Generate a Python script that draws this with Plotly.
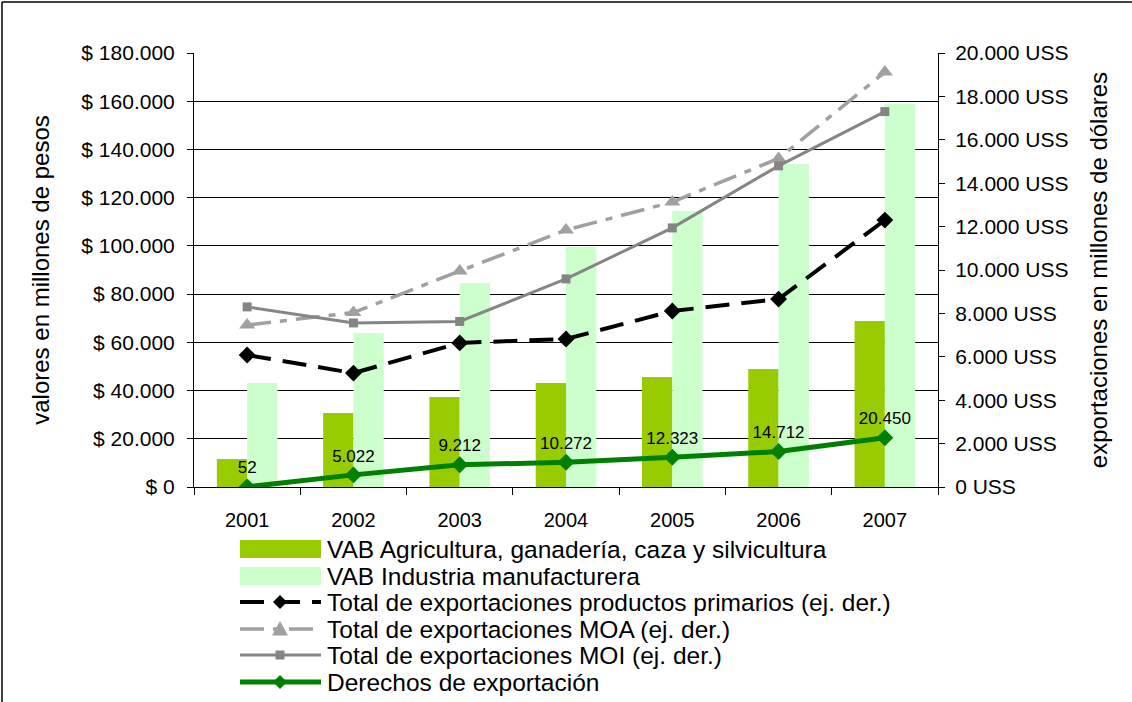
import plotly.graph_objects as go

# ---------------- data ----------------
years = ["2001", "2002", "2003", "2004", "2005", "2006", "2007"]
vab_agro = [11600, 30700, 37300, 43100, 45600, 48900, 68800]          # millones de pesos
vab_ind = [43100, 63900, 84600, 99500, 114500, 134000, 158900]        # millones de pesos
exp_primarios = [6080, 5250, 6640, 6820, 8110, 8660, 12300]           # millones USS
exp_moa = [7460, 8040, 9950, 11840, 13130, 15140, 19120]              # millones USS
exp_moi = [8300, 7560, 7630, 9590, 11940, 14800, 17300]               # millones USS
derechos = [52, 5022, 9212, 10272, 12323, 14712, 20450]               # millones de pesos

left_tickvals = [0, 20000, 40000, 60000, 80000, 100000, 120000, 140000, 160000, 180000]
left_ticktext = ["$ 0", "$ 20.000", "$ 40.000", "$ 60.000", "$ 80.000", "$ 100.000",
                 "$ 120.000", "$ 140.000", "$ 160.000", "$ 180.000"]
right_tickvals = [0, 2000, 4000, 6000, 8000, 10000, 12000, 14000, 16000, 18000, 20000]
right_ticktext = ["0 USS", "2.000 USS", "4.000 USS", "6.000 USS", "8.000 USS", "10.000 USS",
                  "12.000 USS", "14.000 USS", "16.000 USS", "18.000 USS", "20.000 USS"]

names = [
    "VAB Agricultura, ganadería, caza y silvicultura",
    "VAB Industria manufacturera",
    "Total de exportaciones productos primarios (ej. der.)",
    "Total de exportaciones MOA (ej. der.)",
    "Total de exportaciones MOI (ej. der.)",
    "Derechos de exportación",
]

FONT = "Liberation Sans, Arial, sans-serif"
C_AGRO, C_IND = "#99CC00", "#CCFFCC"
C_PRIM, C_MOA, C_MOI, C_DER = "#000000", "#A0A0A0", "#858585", "#008000"
DASH_PRIM = "24px,12px"
DASH_MOA = "24px,9px,7px,9px"

def fmt(v):
    return f"{v:,}".replace(",", ".")

fig = go.Figure()
fig.add_trace(go.Bar(x=years, y=vab_agro, name=names[0], marker_color=C_AGRO,
                     marker_line_width=0, yaxis="y"))
fig.add_trace(go.Bar(x=years, y=vab_ind, name=names[1], marker_color=C_IND,
                     marker_line_width=0, yaxis="y"))
fig.add_trace(go.Scatter(x=years, y=derechos, name=names[5], mode="lines+markers+text",
                         line=dict(color=C_DER, width=5),
                         marker=dict(symbol="diamond", size=13, color=C_DER),
                         text=[fmt(v) for v in derechos], textposition="top center",
                         textfont=dict(family=FONT, size=17, color="black"), yaxis="y"))
fig.add_trace(go.Scatter(x=years, y=exp_primarios, name=names[2], mode="lines+markers",
                         line=dict(color=C_PRIM, width=4, dash=DASH_PRIM),
                         marker=dict(symbol="diamond", size=13, color=C_PRIM), yaxis="y2"))
fig.add_trace(go.Scatter(x=years, y=exp_moa, name=names[3], mode="lines+markers",
                         line=dict(color=C_MOA, width=3.5, dash=DASH_MOA),
                         marker=dict(symbol="triangle-up", size=14, color=C_MOA), yaxis="y2"))
fig.add_trace(go.Scatter(x=years, y=exp_moi, name=names[4], mode="lines+markers",
                         line=dict(color=C_MOI, width=3),
                         marker=dict(symbol="square", size=9, color=C_MOI), yaxis="y2"))

# ---------------- layout geometry ----------------
W, H = 1132, 702
L, R, T, B = 194, 194, 53, 215
PW, PH = W - L - R, H - T - B

def px(x):
    return (x - L) / PW

def py(y):
    return (H - B - y) / PH

shapes = []
annotations = []

# outer chart frame (top and left edges visible)
shapes.append(dict(type="line", xref="paper", yref="paper", x0=px(2), x1=px(1140),
                   y0=py(2), y1=py(2), line=dict(color="black", width=1.5)))
shapes.append(dict(type="line", xref="paper", yref="paper", x0=px(2), x1=px(2),
                   y0=py(2), y1=py(710), line=dict(color="black", width=1.5)))

# ---------------- manual legend ----------------
rows = [549, 576, 602, 629, 655, 682]
sx0, sx1, sxm = 240, 321, 280
for i, col in [(0, C_AGRO), (1, C_IND)]:
    shapes.append(dict(type="rect", xref="paper", yref="paper",
                       x0=px(sx0), x1=px(sx1), y0=py(rows[i] - 9), y1=py(rows[i] + 9),
                       fillcolor=col, line=dict(width=0)))

def diamond(cx, cy, s, col):
    p = (f"M{px(cx)},{py(cy - s)} L{px(cx + s)},{py(cy)} "
         f"L{px(cx)},{py(cy + s)} L{px(cx - s)},{py(cy)} Z")
    return dict(type="path", xref="paper", yref="paper", path=p,
                fillcolor=col, line=dict(width=0))

def triangle(cx, cy, s, col):
    p = (f"M{px(cx)},{py(cy - s)} L{px(cx + s)},{py(cy + s * 0.8)} "
         f"L{px(cx - s)},{py(cy + s * 0.8)} Z")
    return dict(type="path", xref="paper", yref="paper", path=p,
                fillcolor=col, line=dict(width=0))

def square(cx, cy, s, col):
    return dict(type="rect", xref="paper", yref="paper", x0=px(cx - s), x1=px(cx + s),
                y0=py(cy + s), y1=py(cy - s), fillcolor=col, line=dict(width=0))

line_specs = [
    (2, C_PRIM, 4, DASH_PRIM, diamond, 7),
    (3, C_MOA, 3.5, DASH_MOA, triangle, 8),
    (4, C_MOI, 3, "solid", square, 4.5),
    (5, C_DER, 5, "solid", diamond, 7),
]
for i, col, w, dash, mk, s in line_specs:
    shapes.append(dict(type="line", xref="paper", yref="paper",
                       x0=px(sx0), x1=px(sx1), y0=py(rows[i]), y1=py(rows[i]),
                       line=dict(color=col, width=w, dash=dash)))
    shapes.append(mk(sxm, rows[i], s, col))

for i, nm in enumerate(names):
    annotations.append(dict(text=nm, xref="paper", yref="paper", x=px(325), y=py(rows[i]),
                            xanchor="left", yanchor="middle", showarrow=False,
                            font=dict(family=FONT, size=24.5, color="black")))

fig.update_layout(
    width=W, height=H,
    margin=dict(l=L, r=R, t=T, b=B, autoexpand=False),
    paper_bgcolor="white", plot_bgcolor="white",
    font=dict(family=FONT, color="black"),
    barmode="group", bargap=0.43, bargroupgap=0,
    showlegend=False,
    shapes=shapes, annotations=annotations,
    xaxis=dict(type="category", showline=True, linecolor="black", linewidth=1,
               ticks="outside", tickson="boundaries", ticklen=7, tickcolor="black",
               tickfont=dict(size=20), ticklabelstandoff=15, showgrid=False),
    yaxis=dict(range=[0, 180000], tickvals=left_tickvals, ticktext=left_ticktext,
               showline=True, linecolor="black", linewidth=1, ticks="outside", ticklen=6,
               tickcolor="black", tickfont=dict(size=21), ticklabelstandoff=8,
               showgrid=True, gridcolor="black", gridwidth=1, zeroline=False,
               title=dict(text="valores en millones de pesos", font=dict(size=24), standoff=24)),
    yaxis2=dict(range=[0, 20000], tickvals=right_tickvals, ticktext=right_ticktext,
                overlaying="y", side="right", showline=True, linecolor="black", linewidth=1,
                ticks="outside", ticklen=6, tickcolor="black", tickfont=dict(size=21),
                ticklabelstandoff=6, showgrid=False, zeroline=False,
                title=dict(text="exportaciones en millones de dólares", font=dict(size=24),
                           standoff=22)),
)

fig.write_html("out.html", config={"displayModeBar": False},
               post_script="document.body.style.margin='0';document.body.style.overflow='hidden';")
